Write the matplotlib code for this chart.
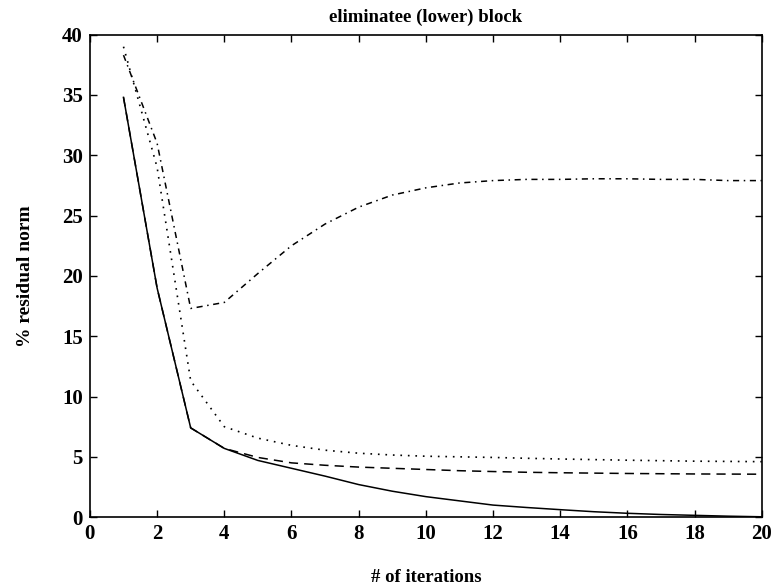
import numpy as np
import matplotlib.pyplot as plt

# iteration numbers
iterations = np.arange(1, 21)

# % residual norm, one list per curve
solid_vals = [34.8, 19.0, 7.4, 5.7, 4.7, 4.05, 3.4, 2.7, 2.15, 1.7,
              1.35, 1.0, 0.8, 0.62, 0.45, 0.32, 0.22, 0.15, 0.08, 0.03]
dashed_vals = [34.8, 19.0, 7.4, 5.7, 4.95, 4.5, 4.3, 4.15, 4.05, 3.95,
               3.85, 3.78, 3.72, 3.68, 3.65, 3.62, 3.6, 3.58, 3.57, 3.56]
dotted_vals = [39.0, 29.0, 11.3, 7.5, 6.55, 5.95, 5.55, 5.3, 5.15, 5.05,
               5.0, 4.95, 4.88, 4.82, 4.77, 4.72, 4.68, 4.64, 4.62, 4.6]
dashdot_vals = [38.3, 31.0, 17.3, 17.8, 20.2, 22.5, 24.3, 25.7, 26.7, 27.3,
                27.7, 27.9, 28.0, 28.0, 28.05, 28.05, 28.0, 28.0, 27.9, 27.9]

x_ticks = list(range(0, 21, 2))
y_ticks = list(range(0, 41, 5))

plt.rcParams['font.family'] = ['Liberation Serif', 'DejaVu Serif']
plt.rcParams['font.weight'] = 'bold'

fig = plt.figure(figsize=(7.75, 5.87), dpi=100)
ax = fig.add_axes([0.116, 0.119, 0.867, 0.822])

ax.plot(iterations, solid_vals, color='black', linestyle='-', linewidth=1.1)
ax.plot(iterations, dashed_vals, color='black', linestyle=(0, (6, 4)), linewidth=1.1)
ax.plot(iterations, dotted_vals, color='black', linestyle=(0, (1, 3.5)), linewidth=1.2)
ax.plot(iterations, dashdot_vals, color='black', linestyle=(0, (4, 3, 1, 3)), linewidth=1.1)

ax.set_xlim(0, 20)
ax.set_ylim(0, 40)
ax.set_xticks(x_ticks)
ax.set_yticks(y_ticks)
ax.tick_params(direction='in', top=True, right=True, length=5, width=1,
               labelsize=15, pad=5)
for spine in ax.spines.values():
    spine.set_linewidth(1.2)

ax.set_title('eliminatee (lower) block', fontsize=13.5, fontweight='bold', pad=9)
ax.set_xlabel('# of iterations', fontsize=13.5, fontweight='bold', labelpad=18)
ax.set_ylabel('% residual norm', fontsize=14, fontweight='bold', labelpad=20)

fig.savefig('out.png', dpi=100)
